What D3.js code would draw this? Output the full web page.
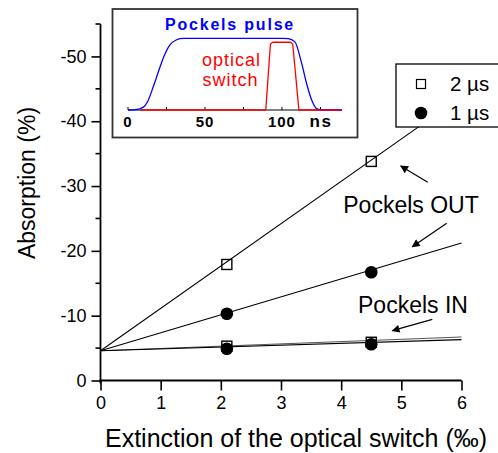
<!DOCTYPE html>
<html>
<head>
<meta charset="utf-8">
<script src="https://cdn.jsdelivr.net/npm/d3@7"></script>
<style>
  body { margin: 0; background: #fff; }
  svg { display: block; font-family: "Liberation Sans", Arial, Helvetica, sans-serif; }
</style>
</head>
<body>
<svg id="chart" width="498" height="453"></svg>
<script>
// ---- data ----
const xTicks = [0, 1, 2, 3, 4, 5, 6];
const yTicks = [0, -10, -20, -30, -40, -50];
const yMinorTicks = [-5, -15, -25, -35, -45, -55];
const extinction = [2.1, 4.5];
const out2us = [-17.9, -33.8];
const out1us = [-10.3, -16.7];
const in2us = [-5.3, -5.9];
const in1us = [-4.9, -5.6];
const fitX = [0, 6];
const fitOut2 = [-4.6, -43.8];
const fitOut1 = [-4.6, -21.2];
const fitIn2 = [-4.6, -6.7];
const fitIn1 = [-4.6, -6.3];
const legendLabels = ["2 \u00b5s", "1 \u00b5s"];
// inset
const insetTicks = [0, 50, 100];
const insetMinor = [25, 75, 125];
const blueT = [0, 5, 10, 13, 16.5, 20.8, 24, 27, 31.6, 36, 45, 100, 104, 108.4, 112.8, 116, 119.3, 122.5, 126, 139];
const blueV = [0, 0.004, 0.04, 0.13, 0.33, 0.6, 0.78, 0.9, 0.98, 1, 1, 1, 0.995, 0.95, 0.65, 0.37, 0.14, 0.02, 0, 0];
const redT = [8, 89.5, 92.5, 94, 105.5, 107, 111, 139];
const redV = [0, 0, 0.92, 0.945, 0.945, 0.92, 0, 0];

const svg = d3.select("#chart");
const x = d3.scaleLinear().domain([0, 6]).range([100.5, 461.5]);
const y = d3.scaleLinear().domain([0, -55]).range([380.5, 24]);
const fmt = d => String(d);

// axes
const yAxis = d3.axisLeft(y).tickValues(yTicks).tickSize(9).tickPadding(5).tickFormat(fmt);
const gy = svg.append("g").attr("transform", `translate(${x(0)},0)`).call(yAxis);
gy.select(".domain").attr("d", `M0,${y(-55)}V${y(0) + 3}`);
gy.selectAll("line").attr("stroke-width", 1.6);
gy.select(".domain").attr("stroke-width", 1.8);
gy.selectAll("text").attr("font-size", 18).attr("fill", "#000");
gy.selectAll(".minor").data(yMinorTicks).enter().append("line")
  .attr("x1", -5).attr("x2", 0).attr("y1", d => y(d)).attr("y2", d => y(d))
  .attr("stroke", "#000").attr("stroke-width", 1.6);

const xAxis = d3.axisBottom(x).tickValues(xTicks).tickSize(10).tickPadding(6).tickFormat(fmt);
const gx = svg.append("g").attr("transform", `translate(0,${y(0)})`).call(xAxis);
gx.select(".domain").attr("d", `M${x(0) - 1},0H${x(6)}`).attr("stroke-width", 1.8);
gx.selectAll("line").attr("stroke-width", 1.6);
gx.selectAll("text").attr("font-size", 18).attr("fill", "#000");

svg.append("text").attr("x", 296).attr("y", 447).attr("text-anchor", "middle")
  .attr("font-size", 25).text("Extinction of the optical switch (\u2030)");
svg.append("text").attr("transform", "translate(35,183) rotate(-90)").attr("text-anchor", "middle")
  .attr("font-size", 23).text("Absorption (%)");

// fit lines
const line = d3.line().x(d => x(d[0])).y(d => y(d[1]));
[[fitOut2, "#000"], [fitOut1, "#000"], [fitIn2, "#555"], [fitIn1, "#000"]].forEach(([vals, c]) => {
  svg.append("path").datum(fitX.map((v, i) => [v, vals[i]]))
    .attr("d", line).attr("fill", "none").attr("stroke", c).attr("stroke-width", 1.1);
});

// points
const sq = 10;
function circles(vals) {
  svg.append("g").selectAll("circle").data(extinction.map((v, i) => [v, vals[i]])).enter().append("circle")
    .attr("cx", d => x(d[0])).attr("cy", d => y(d[1])).attr("r", 6.3).attr("fill", "#000");
}
function squares(vals) {
  svg.append("g").selectAll("rect").data(extinction.map((v, i) => [v, vals[i]])).enter().append("rect")
    .attr("x", d => x(d[0]) - sq / 2).attr("y", d => y(d[1]) - sq / 2).attr("width", sq).attr("height", sq)
    .attr("fill", "none").attr("stroke", "#000").attr("stroke-width", 1.4);
}
circles(out1us); circles(in1us);
squares(out2us); squares(in2us);

// annotations
svg.append("defs").append("marker").attr("id", "ah").attr("viewBox", "0 0 10 10")
  .attr("refX", 9).attr("refY", 5).attr("markerWidth", 11).attr("markerHeight", 8)
  .attr("markerUnits", "userSpaceOnUse").attr("orient", "auto")
  .append("path").attr("d", "M0,0L10,5L0,10Z").attr("fill", "#000");
const arrows = [[[427.7, 182.3], [400.7, 166]], [[446.7, 223.3], [412.3, 246.7]], [[432.3, 319.3], [392.3, 330.7]]];
arrows.forEach(a => svg.append("line").attr("x1", a[0][0]).attr("y1", a[0][1]).attr("x2", a[1][0]).attr("y2", a[1][1])
  .attr("stroke", "#000").attr("stroke-width", 1.2).attr("marker-end", "url(#ah)"));
svg.append("text").attr("x", 411).attr("y", 213).attr("text-anchor", "middle").attr("font-size", 23).text("Pockels OUT");
svg.append("text").attr("x", 413).attr("y", 313).attr("text-anchor", "middle").attr("font-size", 23).text("Pockels IN");

// legend
const lg = svg.append("g");
lg.append("rect").attr("x", 396).attr("y", 64).attr("width", 110).attr("height", 63)
  .attr("fill", "#fff").attr("stroke", "#000").attr("stroke-width", 1.3);
lg.append("rect").attr("x", 421 - 4.5).attr("y", 84 - 4.5).attr("width", 9).attr("height", 9)
  .attr("fill", "none").attr("stroke", "#000").attr("stroke-width", 1.2);
lg.append("circle").attr("cx", 421).attr("cy", 113).attr("r", 6.3).attr("fill", "#000");
lg.selectAll("text").data(legendLabels).enter().append("text")
  .attr("x", 450).attr("y", (d, i) => 91 + i * 29).attr("font-size", 20.5).text(d => d);

// inset
const ig = svg.append("g");
ig.append("rect").attr("x", 112.5).attr("y", 9).attr("width", 245).attr("height", 128.5)
  .attr("fill", "#fff").attr("stroke", "#333").attr("stroke-width", 1.8);
const ix = d3.scaleLinear().domain([0, 139]).range([128, 342]);
const iy = d3.scaleLinear().domain([0, 1]).range([110, 38.3]);
ig.append("line").attr("x1", ix(0)).attr("x2", ix(139)).attr("y1", iy(0)).attr("y2", iy(0)).attr("stroke", "#000").attr("stroke-width", 1.2);
ig.selectAll(".it").data(insetTicks.concat(insetMinor)).enter().append("line")
  .attr("x1", d => ix(d)).attr("x2", d => ix(d)).attr("y1", iy(0)).attr("y2", iy(0) - 3)
  .attr("stroke", "#000").attr("stroke-width", 1);
const iline = d3.line().x(d => ix(d[0])).y(d => iy(d[1])).curve(d3.curveMonotoneX);
ig.append("path").datum(blueT.map((t, i) => [t, blueV[i]])).attr("d", iline)
  .attr("fill", "none").attr("stroke", "#0000ff").attr("stroke-width", 1.3);
ig.append("path").datum(redT.map((t, i) => [t, redV[i]])).attr("d", d3.line().x(d => ix(d[0])).y(d => iy(d[1])))
  .attr("fill", "none").attr("stroke", "#ff0000").attr("stroke-width", 1.3).attr("stroke-linejoin", "round");
ig.selectAll(".il").data(insetTicks).enter().append("text")
  .attr("x", d => ix(d)).attr("y", 127).attr("text-anchor", "middle")
  .attr("font-size", 15).attr("font-weight", "bold").attr("letter-spacing", 1).text(d => d);
ig.append("text").attr("x", 321).attr("y", 127).attr("text-anchor", "middle")
  .attr("font-size", 17).attr("font-weight", "bold").attr("letter-spacing", 1.5).text("ns");
ig.append("text").attr("x", 230).attr("y", 30).attr("text-anchor", "middle").attr("fill", "#0000ff")
  .attr("font-size", 16).attr("font-weight", "bold").attr("letter-spacing", 1.8).text("Pockels pulse");
ig.append("text").attr("x", 231.5).attr("y", 66).attr("text-anchor", "middle").attr("fill", "#ff0000")
  .attr("font-size", 18).attr("letter-spacing", 1).text("optical");
ig.append("text").attr("x", 230.5).attr("y", 86).attr("text-anchor", "middle").attr("fill", "#ff0000")
  .attr("font-size", 18).attr("letter-spacing", 1).text("switch");
</script>
</body>
</html>
